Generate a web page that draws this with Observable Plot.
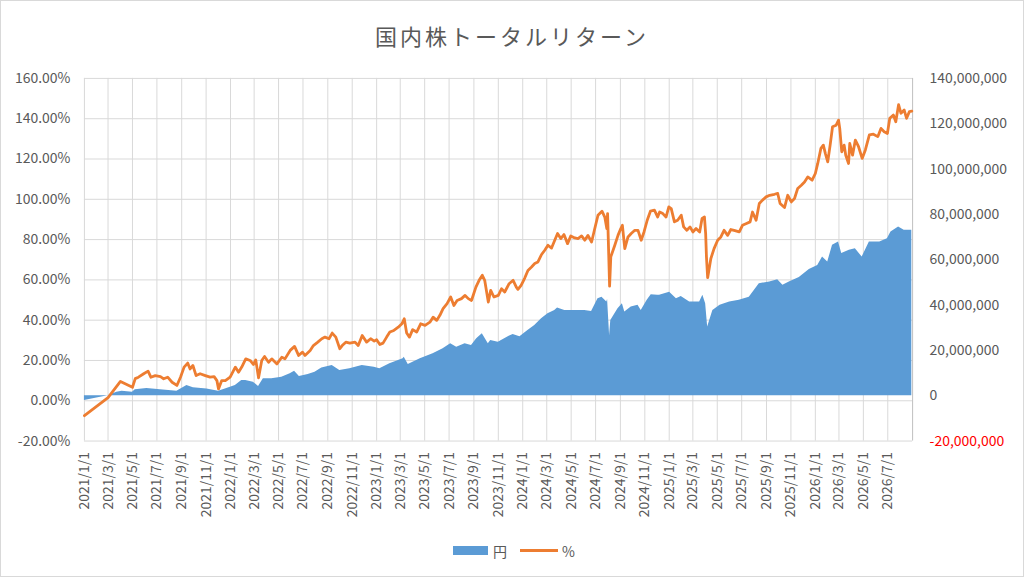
<!DOCTYPE html>
<html>
<head>
<meta charset="utf-8">
<script src="https://cdn.jsdelivr.net/npm/d3@7"></script>
<script src="https://cdn.jsdelivr.net/npm/@observablehq/plot@0.6"></script>
<style>
  body { margin: 0; background: #fff; }
  #chart { position: relative; width: 1024px; height: 577px; box-sizing: border-box; border: 1px solid #d9d9d9; overflow: hidden; font-family: "Noto Sans CJK JP", "Noto Sans", sans-serif; background: #fff; }
  #plot { position: absolute; left: -1px; top: -1px; }
  #title { position: absolute; top: 23px; left: 0; width: 100%; text-align: center; font-size: 22px; line-height: 22px; letter-spacing: 3px; color: #595959; }
  .lg { position: absolute; }
  .lgtext { position: absolute; top: 542px; font-size: 14px; line-height: 16px; color: #595959; }
</style>
</head>
<body>
<div id="chart">
  <div id="plot"></div>
  <div id="title">国内株トータルリターン</div>
  <div class="lg" style="left:452px;top:545px;width:35px;height:9px;background:#5B9BD5;"></div>
  <div class="lgtext" style="left:492px;">円</div>
  <div class="lg" style="left:519px;top:548px;width:38px;height:3px;background:#ED7D31;"></div>
  <div class="lgtext" style="left:561px;">%</div>
</div>
<script>
// ---- Data ----
const xTickLabels = [
  "2021/1/1","2021/3/1","2021/5/1","2021/7/1","2021/9/1","2021/11/1",
  "2022/1/1","2022/3/1","2022/5/1","2022/7/1","2022/9/1","2022/11/1",
  "2023/1/1","2023/3/1","2023/5/1","2023/7/1","2023/9/1","2023/11/1",
  "2024/1/1","2024/3/1","2024/5/1","2024/7/1","2024/9/1","2024/11/1",
  "2025/1/1","2025/3/1","2025/5/1","2025/7/1","2025/9/1","2025/11/1",
  "2026/1/1","2026/3/1","2026/5/1","2026/7/1"
];
const leftTicks = [-20, 0, 20, 40, 60, 80, 100, 120, 140, 160];          // %
const rightTicksYen = [-20000000, 0, 20000000, 40000000, 60000000, 80000000, 100000000, 120000000, 140000000];

// % series (orange line)
const lineDates = [
"2021-01-01","2021-03-01","2021-04-01","2021-05-01","2021-05-08","2021-05-16","2021-05-29","2021-06-09","2021-06-16","2021-06-27",
"2021-07-10","2021-07-18","2021-07-28","2021-08-08","2021-08-20","2021-08-29","2021-09-07","2021-09-16","2021-09-22","2021-09-29",
"2021-10-07","2021-10-17","2021-10-30","2021-11-11","2021-11-21","2021-11-28","2021-12-02","2021-12-10","2021-12-19","2021-12-31",
"2022-01-13","2022-01-21","2022-01-29","2022-02-08","2022-02-19","2022-02-27","2022-03-05","2022-03-12","2022-03-20","2022-03-27",
"2022-04-06","2022-04-14","2022-04-27","2022-05-09","2022-05-17","2022-05-30","2022-06-10","2022-06-20","2022-06-30","2022-07-06",
"2022-07-19","2022-07-27","2022-08-07","2022-08-17","2022-08-25","2022-09-04","2022-09-12","2022-09-21","2022-10-01","2022-10-07",
"2022-10-16","2022-10-26","2022-11-08","2022-11-16","2022-11-26","2022-12-07","2022-12-17","2022-12-26","2023-01-01","2023-01-09",
"2023-01-17","2023-01-26","2023-02-03","2023-02-13","2023-02-24","2023-03-05","2023-03-11","2023-03-17","2023-03-24","2023-04-01",
"2023-04-11","2023-04-21","2023-05-02","2023-05-14","2023-05-22","2023-05-31","2023-06-08","2023-06-16","2023-06-26","2023-07-05",
"2023-07-13","2023-07-21","2023-08-01","2023-08-10","2023-08-18","2023-08-26","2023-09-06","2023-09-14","2023-09-22","2023-09-28",
"2023-10-07","2023-10-13","2023-10-21","2023-11-01","2023-11-09","2023-11-17","2023-11-28","2023-12-08","2023-12-16","2023-12-20",
"2023-12-28","2024-01-06","2024-01-14","2024-01-23","2024-01-31","2024-02-08","2024-02-17","2024-02-25","2024-03-04","2024-03-13",
"2024-03-21","2024-03-28","2024-04-05","2024-04-13","2024-04-22","2024-04-30","2024-05-10","2024-05-18","2024-05-27","2024-06-04",
"2024-06-12","2024-06-21","2024-06-29","2024-07-07","2024-07-17","2024-07-24","2024-07-29","2024-07-31","2024-08-05","2024-08-08",
"2024-08-18","2024-08-26","2024-09-02","2024-09-06","2024-09-12","2024-09-20","2024-09-28","2024-10-07","2024-10-15","2024-10-23",
"2024-10-30","2024-11-07","2024-11-15","2024-11-25","2024-12-03","2024-12-08","2024-12-16","2024-12-24","2024-12-31","2025-01-06",
"2025-01-14","2025-01-22","2025-01-31","2025-02-06","2025-02-14","2025-02-22","2025-03-01","2025-03-09","2025-03-18","2025-03-24",
"2025-03-30","2025-04-02","2025-04-04","2025-04-07","2025-04-15","2025-04-23","2025-05-02","2025-05-10","2025-05-18","2025-05-27",
"2025-06-04","2025-06-12","2025-06-25","2025-07-03","2025-07-13","2025-07-22","2025-07-28","2025-08-06","2025-08-14","2025-08-22",
"2025-08-31","2025-09-09","2025-09-21","2025-09-29","2025-10-05","2025-10-16","2025-10-24","2025-11-02","2025-11-10","2025-11-18",
"2025-11-27","2025-12-05","2025-12-13","2025-12-24","2026-01-01","2026-01-07","2026-01-15","2026-01-21","2026-01-26","2026-02-01",
"2026-02-07","2026-02-13","2026-02-22","2026-02-28","2026-03-03","2026-03-08","2026-03-14","2026-03-18","2026-03-25","2026-03-28",
"2026-04-04","2026-04-11","2026-04-19","2026-04-28","2026-05-06","2026-05-16","2026-05-26","2026-06-06","2026-06-14","2026-06-22",
"2026-06-30","2026-07-06","2026-07-15","2026-07-21","2026-07-28","2026-08-03","2026-08-11","2026-08-17","2026-08-24","2026-08-30"
];
const linePct = [
-7.4,1.6,9.6,6.7,11,11.7,13.4,14.7,11.7,12.5,
12,10.9,11.7,9.2,7.6,11.7,16.7,18.7,15.8,17.5,
12.5,13.4,12.5,11.7,12,10,5.9,10,10,11.7,
16.7,14.2,16.7,20.8,20,18,20.3,11.4,20,22,
19.1,20.8,18.3,21.6,20.8,25,27,22.5,24.1,22.5,
25,27.4,29.1,30.8,31.6,30.8,33.6,31.6,25.8,27.4,
29.1,28.6,29.1,27.4,32.4,29.1,30.8,29.6,30.3,27.9,
28.6,31.6,34.1,34.9,36.5,38.2,40.7,33.6,31.6,35.3,
34.1,38.2,37.4,39,41.5,39.9,42.4,45.7,48.2,51.5,
47.3,49.8,50.7,52.3,50.7,49.8,56.4,59.8,62.3,59.8,
49,54.8,51.5,52.3,55.6,54,58.1,59.8,56.4,55.3,
57.3,60.9,64.7,66.4,68.1,68.9,72.6,74.7,77.2,75.8,
79.7,83,80.5,82.5,78,81.8,80.8,80.5,81.8,79.7,
82.1,78.8,85.5,92.1,94.1,91.2,85.5,92.9,56.9,71.4,
77.2,82.1,85.5,87.1,75.5,81.3,83,84.6,84.6,79.7,
83.8,89.6,94.1,94.6,91.2,93.7,92.9,91.2,96.2,95.4,
88.8,89.6,92.1,86.3,84.6,86.3,83.8,85.5,83.8,90.5,
91.2,83,71.4,61.1,70.6,75.5,79.7,81.3,84.6,82.1,
85,84.6,83.8,87.1,88,88.8,93.7,89.6,97.9,99.6,
101.2,102,102.5,102.9,97.9,95.9,102,98.7,100.4,105.4,
107,108.6,111.1,109.5,112.8,117.8,125.3,126.9,122.8,118.6,
126.9,136,136.8,139.3,135.2,123.6,126.9,121.9,117.8,127.7,
121.9,129.4,126.1,120.3,124.5,132,132.3,131.1,135.2,133.5,
132.7,140.2,141.8,138.5,147,142.7,144.3,140.2,143.5,143.8
];

// 円 series (blue area), in millions of yen
const areaDates = [
"2021-01-01","2021-03-01","2021-03-23","2021-04-05","2021-05-01","2021-05-08","2021-06-06","2021-07-10","2021-08-20","2021-09-14",
"2021-09-30","2021-11-03","2021-12-02","2021-12-19","2022-01-13","2022-01-29","2022-02-08","2022-02-27","2022-03-12","2022-03-24",
"2022-04-14","2022-05-09","2022-05-30","2022-06-10","2022-06-22","2022-07-14","2022-07-31","2022-08-17","2022-09-12","2022-10-01",
"2022-10-26","2022-11-26","2022-12-26","2023-01-09","2023-02-03","2023-03-08","2023-03-11","2023-03-21","2023-04-20","2023-05-22",
"2023-06-16","2023-07-05","2023-07-20","2023-08-10","2023-08-26","2023-09-08","2023-09-22","2023-10-07","2023-10-13","2023-11-01",
"2023-11-28","2023-12-08","2023-12-25","2024-01-14","2024-01-31","2024-02-17","2024-03-04","2024-03-21","2024-03-28","2024-04-15",
"2024-05-10","2024-06-04","2024-06-21","2024-07-07","2024-07-17","2024-07-29","2024-07-31","2024-08-05","2024-08-08","2024-08-26",
"2024-09-06","2024-09-12","2024-09-28","2024-10-15","2024-10-23","2024-11-07","2024-11-17","2024-12-03","2024-12-08","2025-01-02",
"2025-01-19","2025-01-31","2025-02-21","2025-03-18","2025-03-26","2025-04-02","2025-04-07","2025-04-20","2025-05-08","2025-06-01",
"2025-06-25","2025-07-20","2025-08-14","2025-09-09","2025-09-29","2025-10-12","2025-10-28","2025-11-22","2025-12-17","2026-01-07",
"2026-01-19","2026-02-01","2026-02-13","2026-02-28","2026-03-08","2026-03-27","2026-04-11","2026-04-28","2026-05-16","2026-06-11",
"2026-06-30","2026-07-09","2026-07-28","2026-08-11","2026-08-30"
];
const areaYenM = [
-2.1,0,1.5,2.0,1.5,2.6,3.2,2.6,2.0,4.5,
3.5,3.0,2.0,3.0,4.5,6.7,6.7,6.0,4.1,7.5,
7.5,8.2,9.7,10.8,8.5,9.4,10.4,12.2,13.3,11.1,
11.9,13.3,12.6,11.9,14.1,16.3,17,13.8,16.3,18.5,
20.7,22.9,21.4,22.9,22.2,25.1,27.4,22.9,24.4,23.6,
26.2,27,26,28.8,31,34,36.2,37.6,38.7,37.6,
37.6,37.6,37.2,42.8,43.5,41.3,42.5,26.6,33.2,38.4,
40.6,36.9,39.1,39.9,37.6,42.1,44.6,44.3,44.3,45.7,
42.8,43.8,41.3,41.3,44.3,40.6,30.3,37.6,39.9,41.3,
42.1,43.5,49.4,50.2,51.2,48.7,50.2,52.2,55.7,57.5,
61.2,59,66.4,67.8,62.7,64.2,64.9,61.2,67.8,67.8,
69.3,72.2,74.5,73,73
];

// ---- Build ----
const parseISO = s => { const [y, m, d] = s.split("-").map(Number); return new Date(Date.UTC(y, m - 1, d)); };
const parseSlash = s => { const [y, m, d] = s.split("/").map(Number); return new Date(Date.UTC(y, m - 1, d)); };
// Right axis (-20M..140M) shares the plot height with left axis (-20%..160%)
const toPct = m => -20 + (m + 20) * (180 / 160);
const fromPct = v => Math.round((v + 20) * (160 / 180) - 20) * 1e6;

const lineData = lineDates.map((d, i) => ({date: parseISO(d), pct: linePct[i]}));
const areaData = areaDates.map((d, i) => ({date: parseISO(d), v: toPct(areaYenM[i])}));
const xTicks = xTickLabels.map(parseSlash);
const xStart = parseSlash("2021/1/1"), xEnd = parseSlash("2026/9/1");
const fmtX = d => `${d.getUTCFullYear()}/${d.getUTCMonth() + 1}/${d.getUTCDate()}`;
const fmtYen = v => fromPct(v).toLocaleString("en-US");

const baseline = toPct(0);
const rightPos = rightTicksYen.filter(v => v >= 0).map(v => toPct(v / 1e6));
const rightNeg = rightTicksYen.filter(v => v < 0).map(v => toPct(v / 1e6));

const chart = Plot.plot({
  width: 1024,
  height: 577,
  marginLeft: 84,
  marginRight: 111,
  marginTop: 78,
  marginBottom: 136,
  x: {type: "utc", domain: [xStart, xEnd]},
  y: {domain: [-20, 160]},
  style: {fontFamily: '"Noto Sans CJK JP", "Noto Sans", sans-serif', fontSize: "14px", color: "#595959", background: "transparent"},
  marks: [
    Plot.ruleY(leftTicks, {stroke: "#d9d9d9", strokeWidth: 1}),
    Plot.ruleX(xTicks, {stroke: "#d9d9d9", strokeWidth: 1}),
    Plot.areaY(areaData, {x: "date", y1: () => baseline, y2: "v", fill: "#5B9BD5", curve: "linear"}),
    Plot.ruleX([xEnd], {stroke: "#bfbfbf", strokeWidth: 1}),
    Plot.line(lineData, {x: "date", y: "pct", stroke: "#ED7D31", strokeWidth: 2.8, curve: "linear", strokeLinejoin: "round"}),
    Plot.axisY(leftTicks, {anchor: "left", tickSize: 0, tickPadding: 14, tickFormat: v => v.toFixed(2) + "%", label: null, fontSize: 14}),
    Plot.axisY(rightPos, {anchor: "right", tickSize: 0, tickPadding: 17, tickFormat: fmtYen, label: null, fontSize: 14}),
    Plot.axisY(rightNeg, {anchor: "right", tickSize: 0, tickPadding: 17, tickFormat: fmtYen, label: null, fontSize: 14, color: "#FF0000"}),
    Plot.axisX(xTicks, {anchor: "bottom", tickSize: 0, tickPadding: 11, tickRotate: -90, tickFormat: fmtX, label: null, fontSize: 14})
  ]
});
document.getElementById("plot").appendChild(chart);
</script>
</body>
</html>
